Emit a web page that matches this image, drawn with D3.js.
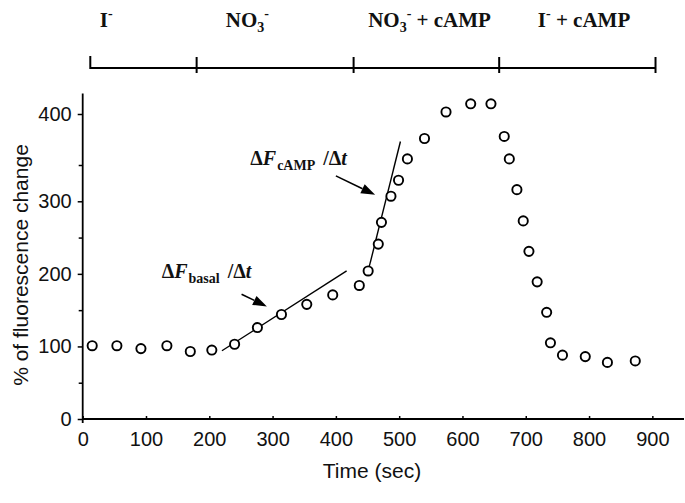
<!DOCTYPE html>
<html>
<head>
<meta charset="utf-8">
<script src="https://cdn.jsdelivr.net/npm/d3@7"></script>
<style>
  body { margin: 0; background: #fff; }
  svg { display: block; }
  text { white-space: pre; }
</style>
</head>
<body>
<div id="chart"></div>
<script>
// Time course of the fluorescence signal
const times = [15, 54, 92, 133, 170, 204, 240, 276, 314, 354, 395, 437, 451, 467, 472, 487, 499, 513, 540, 574, 613, 645, 666, 674, 686, 696, 705, 718, 733, 739, 758, 794, 829, 873];
const fluor = [101, 101, 97, 101, 93, 95, 103, 126, 144, 158, 171, 184, 204, 241, 271, 307, 329, 356, 376, 402, 410, 410, 378, 356, 316, 273, 231, 189, 147, 105, 88, 86, 78, 80];

// solution bar on top
const phaseEdges = [12, 180, 428, 658, 905];
const phaseNames = ["I-", "NO3-", "NO3- + cAMP", "I- + cAMP"];
const phaseLabelT = [27, 226, 451, 719];

const xTicks = [0, 100, 200, 300, 400, 500, 600, 700, 800, 900];
const yTicks = [0, 100, 200, 300, 400];
const yMinorTicks = [50, 150, 250, 350];

// slope fits
const basalFit = [[220, 94], [417, 204]];
const campFit = [[451, 204], [502, 373]];

const width = 685, height = 503;

const svg = d3.select("#chart")
    .append("svg")
    .attr("width", width)
    .attr("height", height)
    .style("background", "#fff");

const x = d3.scaleLinear().domain([0, 950]).range([82.7, 684]);
// printed axis is stretched above 350
const y = d3.scaleLinear().domain([0, 350, 420]).range([419, 165, 93.6]);

const sans = "'Liberation Sans', Arial, sans-serif";
const serif = "'Liberation Serif', 'Times New Roman', serif";

// Axes
svg.append("g")
    .attr("transform", `translate(${x(0)},0)`)
    .call(d3.axisLeft(y).tickValues(yTicks).tickSize(5).tickPadding(6));
svg.append("g")
    .attr("transform", `translate(${x(0)},0)`)
    .call(d3.axisLeft(y).tickValues(yMinorTicks).tickSize(4).tickFormat(""));

svg.append("g")
    .attr("transform", `translate(0,${y(0)})`)
    .call(d3.axisBottom(x).tickValues(xTicks).tickSize(-3).tickPadding(13));

svg.selectAll(".domain").remove();
svg.selectAll(".tick line").attr("stroke", "#000").attr("stroke-width", 1.5);
svg.selectAll(".tick text")
    .attr("fill", "#111")
    .style("font-family", sans)
    .style("font-size", "20px");

svg.append("line")
    .attr("x1", x(0)).attr("x2", x(0))
    .attr("y1", y(0) + 4).attr("y2", y(420))
    .attr("stroke", "#000").attr("stroke-width", 1.8);
svg.append("line")
    .attr("x1", x(0)).attr("x2", x(950))
    .attr("y1", y(0)).attr("y2", y(0))
    .attr("stroke", "#000").attr("stroke-width", 1.8);

// Axis titles
svg.append("text")
    .attr("x", 372)
    .attr("y", 478)
    .attr("text-anchor", "middle")
    .style("font-family", sans)
    .style("font-size", "21px")
    .attr("fill", "#111")
    .text("Time (sec)");

svg.append("text")
    .attr("transform", "translate(28,265) rotate(-90)")
    .attr("text-anchor", "middle")
    .style("font-family", sans)
    .style("font-size", "21px")
    .attr("fill", "#111")
    .text("% of fluorescence change");

// Top bar with solution phases
const barY = 68;
svg.append("line")
    .attr("x1", x(phaseEdges[0])).attr("x2", x(phaseEdges[phaseEdges.length - 1]))
    .attr("y1", barY).attr("y2", barY)
    .attr("stroke", "#000").attr("stroke-width", 2);
svg.selectAll(".phase-tick")
    .data(phaseEdges)
    .enter()
    .append("line")
    .attr("class", "phase-tick")
    .attr("x1", d => x(d)).attr("x2", d => x(d))
    .attr("y1", (d, i) => i === 0 ? 56 : 57).attr("y2", (d, i) => i === 0 ? 69 : 73)
    .attr("stroke", "#000").attr("stroke-width", 2);

// digits become subscripts, "-" becomes the ion charge superscript
function ionLabel(sel, str, big, small) {
    let shift = 0;
    str.split(/(\d+|-)/).filter(s => s.length).forEach(part => {
        let target = 0, size = big;
        if (/^\d+$/.test(part)) { target = 5; size = small; }
        else if (part === "-") { target = -9; size = small; }
        sel.append("tspan")
            .attr("dy", target - shift)
            .style("font-size", size + "px")
            .text(part);
        shift = target;
    });
}

svg.selectAll(".phase-label")
    .data(phaseNames)
    .enter()
    .append("text")
    .attr("class", "phase-label")
    .attr("x", (d, i) => x(phaseLabelT[i]))
    .attr("y", 27)
    .style("font-family", serif)
    .style("font-weight", "bold")
    .attr("fill", "#111")
    .each(function (d) { ionLabel(d3.select(this), d, 21, 14); });

// Fitted slopes
const line = d3.line().x(d => x(d[0])).y(d => y(d[1]));
[basalFit, campFit].forEach(fit => {
    svg.append("path")
        .datum(fit)
        .attr("d", line)
        .attr("fill", "none")
        .attr("stroke", "#000")
        .attr("stroke-width", 1.4);
});

// Data points
svg.selectAll(".pt")
    .data(times.map((t, i) => ({ t: t, v: fluor[i] })))
    .enter()
    .append("circle")
    .attr("class", "pt")
    .attr("cx", d => x(d.t))
    .attr("cy", d => y(d.v))
    .attr("r", 4.6)
    .attr("fill", "#fff")
    .attr("stroke", "#000")
    .attr("stroke-width", 1.9);

// Annotations
const notes = [
    { sub: "cAMP", t: 264.7, v: 350, slashT: 380, from: [400, 335], to: [462, 309] },
    { sub: "basal", t: 124.7, v: 194, slashT: 229, from: [251, 172], to: [291, 155] }
];

notes.forEach(n => {
    const txt = svg.append("text")
        .attr("x", x(n.t))
        .attr("y", y(n.v))
        .style("font-family", serif)
        .style("font-weight", "bold")
        .style("font-size", "20px")
        .attr("fill", "#111");
    txt.append("tspan").text("\u0394");
    txt.append("tspan").style("font-style", "italic").text("F");
    txt.append("tspan").attr("dy", 5).attr("dx", 1).style("font-size", "14px").text(n.sub);
    txt.append("tspan").attr("x", x(n.slashT)).attr("dy", -5).text("/\u0394");
    txt.append("tspan").style("font-style", "italic").text("t");

    // arrow
    const x1 = x(n.from[0]), y1 = y(n.from[1]), x2 = x(n.to[0]), y2 = y(n.to[1]);
    const a = Math.atan2(y2 - y1, x2 - x1);
    const len = 14, hw = 5;
    const bx = x2 - len * Math.cos(a), by = y2 - len * Math.sin(a);
    svg.append("line")
        .attr("x1", x1).attr("y1", y1).attr("x2", bx).attr("y2", by)
        .attr("stroke", "#000").attr("stroke-width", 1.6);
    svg.append("path")
        .attr("d", `M${x2},${y2}L${bx + hw * Math.sin(a)},${by - hw * Math.cos(a)}L${bx - hw * Math.sin(a)},${by + hw * Math.cos(a)}Z`)
        .attr("fill", "#000");
});
</script>
</body>
</html>
